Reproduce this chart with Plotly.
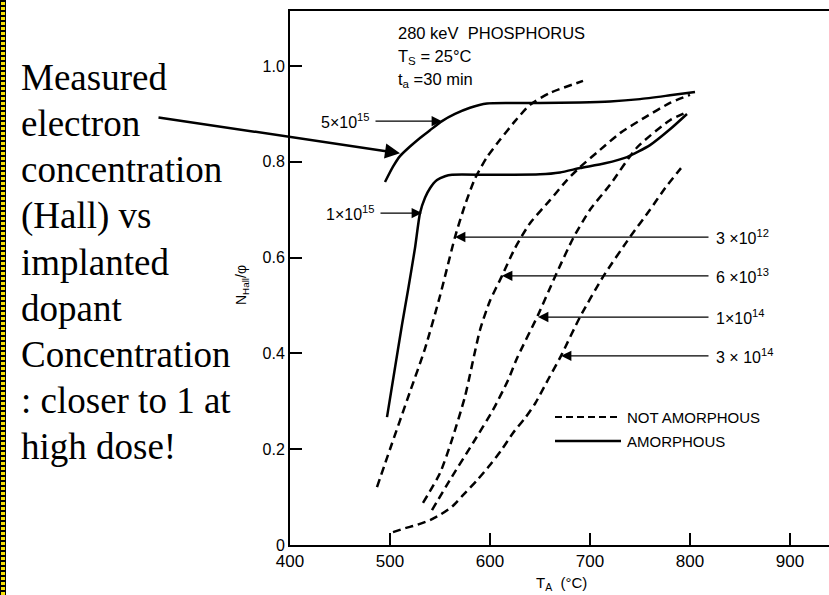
import plotly.graph_objects as go

# ---------------- data ----------------
temp_5e15 = [495, 503, 510, 520, 530, 540, 552, 565, 580, 597, 620, 650, 690, 720, 750, 780, 805]
nh_5e15 = [0.758, 0.79, 0.812, 0.832, 0.85, 0.866, 0.885, 0.9, 0.913, 0.922, 0.923, 0.923, 0.924, 0.926, 0.931, 0.939, 0.946]

temp_1e15 = [497, 505, 512, 518, 525, 530, 535, 540, 547, 555, 562, 600, 650, 670, 690, 715, 737, 760, 780, 797]
nh_1e15 = [0.267, 0.37, 0.46, 0.532, 0.62, 0.693, 0.725, 0.745, 0.762, 0.77, 0.773, 0.773, 0.774, 0.778, 0.787, 0.797, 0.81, 0.835, 0.868, 0.90]

temp_3e12 = [487, 500, 520, 535, 550, 565, 575, 585, 597, 610, 625, 640, 660, 693]
nh_3e12 = [0.121, 0.2, 0.32, 0.41, 0.52, 0.643, 0.71, 0.765, 0.81, 0.846, 0.885, 0.919, 0.944, 0.969]

temp_6e13 = [533, 550, 562, 575, 590, 600, 612, 625, 640, 660, 677, 690, 710, 730, 755, 780, 800]
nh_6e13 = [0.088, 0.15, 0.22, 0.31, 0.449, 0.51, 0.562, 0.62, 0.672, 0.72, 0.762, 0.789, 0.825, 0.86, 0.893, 0.923, 0.94]

temp_1e14 = [542, 560, 583, 603, 618, 627, 648, 665, 683, 700, 720, 747, 780, 798]
nh_1e14 = [0.073, 0.136, 0.213, 0.282, 0.344, 0.39, 0.48, 0.56, 0.64, 0.70, 0.752, 0.83, 0.887, 0.905]

temp_3e14 = [503, 515, 527, 540, 550, 562, 573, 587, 600, 612, 623, 635, 645, 658, 671, 690, 713, 740, 760, 775, 791]
nh_3e14 = [0.027, 0.035, 0.042, 0.052, 0.063, 0.08, 0.104, 0.135, 0.167, 0.2, 0.234, 0.265, 0.295, 0.345, 0.395, 0.476, 0.56, 0.643, 0.70, 0.745, 0.787]

x_ticks = [400, 500, 600, 700, 800, 900]
y_ticks = [0, 0.2, 0.4, 0.6, 0.8, 1.0]
y_ticktext = ["0", "0.2", "0.4", "0.6", "0.8", "1.0"]

# dose labels: text, arrow-tip temperature, arrow-tip value, side
dose_labels = ["5×10<sup>15</sup>", "1×10<sup>15</sup>", "3 ×10<sup>12</sup>",
               "6 ×10<sup>13</sup>", "1×10<sup>14</sup>", "3 × 10<sup>14</sup>"]
dose_tip_t = [552, 532, 565, 612, 648, 671]
dose_tip_v = [0.885, 0.693, 0.643, 0.562, 0.476, 0.395]
dose_side = ["left", "left", "right", "right", "right", "right"]

header_lines = ["280 keV  PHOSPHORUS", "T<sub>S</sub> = 25°C", "t<sub>a</sub> =30 min"]
note_lines = ["Measured", "electron", "concentration", "(Hall) vs", "implanted",
              "dopant", "Concentration", ": closer to 1 at", "high dose!"]

# ---------------- layout geometry (pixels of the 829x595 page) ----------------
W, H = 829, 595
L, R, T, B = 290, 0, 11, 50
PW, PH = W - L - R, H - T - B
X_RANGE = [400, 939]
Y_RANGE = [0, 1.115]


def px(xp):
    return (xp - L) / PW


def py(yp):
    return (H - B - yp) / PH


def t_at(xp):
    return X_RANGE[0] + (xp - L) * (X_RANGE[1] - X_RANGE[0]) / PW


SANS = "Liberation Sans, Arial, sans-serif"
SERIF = "Liberation Serif, Times New Roman, serif"

fig = go.Figure()

solid = dict(color="black", width=2.5, shape="spline", smoothing=0.6)
dashed = dict(color="black", width=2.5, dash="8px,5px", shape="spline", smoothing=0.6)

fig.add_trace(go.Scatter(x=temp_5e15, y=nh_5e15, mode="lines", line=solid, name="5×10¹⁵ (amorphous)"))
fig.add_trace(go.Scatter(x=temp_1e15, y=nh_1e15, mode="lines", line=solid, name="1×10¹⁵ (amorphous)"))
fig.add_trace(go.Scatter(x=temp_3e12, y=nh_3e12, mode="lines", line=dashed, name="3×10¹²"))
fig.add_trace(go.Scatter(x=temp_6e13, y=nh_6e13, mode="lines", line=dashed, name="6×10¹³"))
fig.add_trace(go.Scatter(x=temp_1e14, y=nh_1e14, mode="lines", line=dashed, name="1×10¹⁴"))
fig.add_trace(go.Scatter(x=temp_3e14, y=nh_3e14, mode="lines", line=dashed, name="3×10¹⁴"))

annotations = []
shapes = []

# dose labels with arrows
for txt, tt, tv, side in zip(dose_labels, dose_tip_t, dose_tip_v, dose_side):
    if side == "left":
        tail_px = 374 if tt > 540 else 379
        text_px, anchor = tail_px - 2, "right"
    else:
        tail_px = 710
        text_px, anchor = 714, "left"
    annotations.append(dict(x=tt, y=tv, xref="x", yref="y", ax=t_at(tail_px), ay=tv, axref="x", ayref="y",
                            text="", showarrow=True, arrowhead=2, arrowsize=1.6, arrowwidth=1.3,
                            arrowcolor="black"))
    annotations.append(dict(x=t_at(text_px), y=tv, xref="x", yref="y", text=txt, showarrow=False,
                            xanchor=anchor, yanchor="middle", font=dict(family=SANS, size=16, color="black")))

# header text block
for i, line in enumerate(header_lines):
    annotations.append(dict(x=px(396), y=py(33 + i * 23.5), xref="paper", yref="paper", text=line,
                            showarrow=False, xanchor="left", yanchor="middle",
                            font=dict(family=SANS, size=16.5, color="black")))

# explanatory note on the left
for i, line in enumerate(note_lines):
    annotations.append(dict(x=px(19), y=py(78 + i * 46), xref="paper", yref="paper", text=line,
                            showarrow=False, xanchor="left", yanchor="middle",
                            font=dict(family=SERIF, size=37, color="black")))

# arrow from note to the 5x10^15 curve
annotations.append(dict(x=510, y=0.818, xref="x", yref="y", ax=-243, ay=-36, axref="pixel", ayref="pixel",
                        text="", showarrow=True, arrowhead=2, arrowsize=1.2, arrowwidth=2.5, arrowcolor="black"))

# axis titles
annotations.append(dict(x=px(231), y=py(285), xref="paper", yref="paper",
                        text="N<sub>Hall</sub>/φ", textangle=-90, showarrow=False,
                        font=dict(family=SANS, size=14, color="black")))
annotations.append(dict(x=px(561), y=py(572), xref="paper", yref="paper",
                        text="T<sub>A</sub>  (°C)", showarrow=False, yanchor="top",
                        font=dict(family=SANS, size=15, color="black")))

# legend (sample lines + text)
legend_items = [("NOT AMORPHOUS", "7px,4px", 417), ("AMORPHOUS", "solid", 441)]
for name, dash, yp in legend_items:
    shapes.append(dict(type="line", xref="paper", yref="paper", x0=px(555), x1=px(621), y0=py(yp), y1=py(yp),
                       line=dict(color="black", width=2.5 if dash == "solid" else 2, dash=dash)))
    annotations.append(dict(x=px(625), y=py(yp), xref="paper", yref="paper", text=name, showarrow=False,
                            xanchor="left", yanchor="middle", font=dict(family=SANS, size=15, color="black")))

# yellow dotted border at the left edge of the slide
shapes.append(dict(type="rect", xref="paper", yref="paper", x0=px(0), x1=px(6), y0=py(H), y1=py(0),
                   fillcolor="black", line=dict(width=0), layer="above"))
shapes.append(dict(type="line", xref="paper", yref="paper", x0=px(3), x1=px(3), y0=py(H), y1=py(0),
                   line=dict(color="#f5e000", width=4, dash="3px,2px"), layer="above"))

fig.update_layout(
    width=W, height=H,
    margin=dict(l=L, r=R, t=T, b=B, pad=0),
    paper_bgcolor="white", plot_bgcolor="white",
    showlegend=False,
    annotations=annotations, shapes=shapes,
    font=dict(family=SANS, color="black"),
)
fig.update_xaxes(range=X_RANGE, tickvals=x_ticks, ticks="inside", ticklen=12, tickwidth=1.5,
                 showline=True, linewidth=2, linecolor="black", mirror=True, showgrid=False, zeroline=False,
                 tickfont=dict(family=SANS, size=17, color="black"), tickcolor="black")
fig.update_yaxes(range=Y_RANGE, tickvals=y_ticks, ticktext=y_ticktext, ticks="inside", ticklen=12, tickwidth=1.5,
                 showline=True, linewidth=2, linecolor="black", mirror=False, showgrid=False, zeroline=False,
                 tickfont=dict(family=SANS, size=16, color="black"), tickcolor="black")

fig.write_html("out.html")
